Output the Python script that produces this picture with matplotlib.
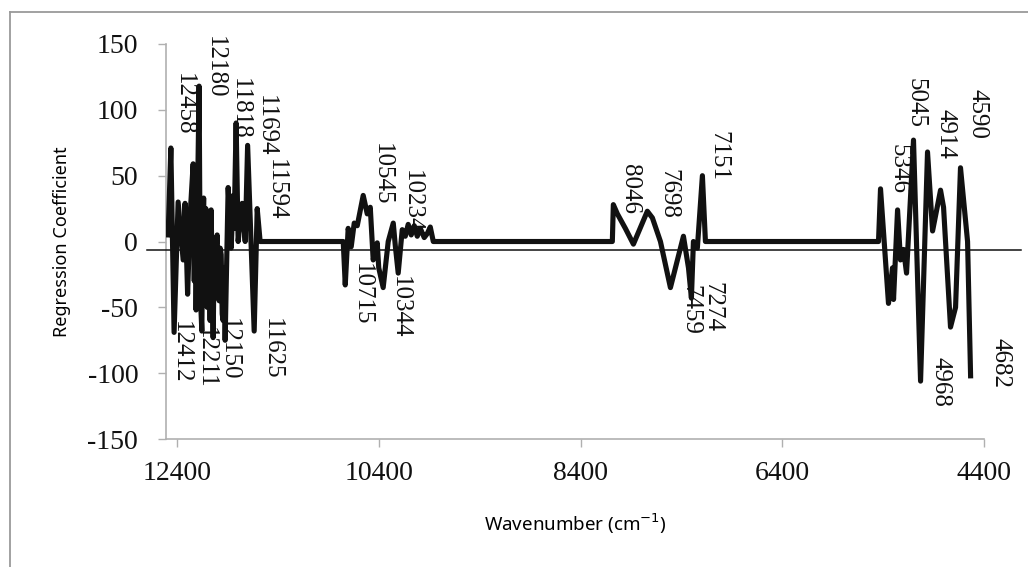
import numpy as np
import matplotlib
matplotlib.use("Agg")
import matplotlib.pyplot as plt
from matplotlib.lines import Line2D

# regression coefficients of the selected wavenumber regions (unselected = 0)
wavenumber = [
    12489, 12462, 12430, 12390, 12340, 12321, 12296, 12271, 12241, 12230,
    12222, 12212, 12200, 12182, 12170, 12155, 12145, 12137, 12125, 12115,
    12102, 12092, 12083, 12073, 12063, 12053, 12043, 12033, 12023, 12013,
    12003, 11993, 11983, 11973, 11963, 11953, 11944, 11934, 11924, 11894,
    11864, 11844, 11835, 11815, 11795, 11755, 11725, 11701, 11636, 11606,
    11577,
    10753, 10733, 10704, 10674, 10644, 10614, 10555, 10515, 10485, 10456,
    10416, 10401, 10357, 10307, 10257, 10237, 10208, 10168, 10138, 10109,
    10079, 10049, 10019, 9989, 9950, 9920, 9890, 9860,
    8085, 8075, 8035, 7956, 7876, 7738, 7688, 7608, 7509, 7380,
    7330, 7301, 7281, 7242, 7192, 7162,
    5446, 5426, 5347, 5307, 5297, 5257, 5228, 5198, 5168, 5099,
    5029, 4960, 4910, 4831, 4801, 4732, 4682, 4633, 4563, 4533,
]
coefficient = [
    5, 71, -69, 30, -14, 29, -40, 20, 59, -30,
    40, -52, 20, 118, -40, -68, 10, 33, -45, 25,
    -50, -10, 10, -60, 24, -20, -73, -15, -20, -5,
    5, -30, -45, -5, -10, -55, -60, -20, -75, 41,
    -5, 35, 10, 90, 0, 29, 0, 73, -68, 25,
    0,
    0, -33, 10, -4, 14, 12, 35, 21, 26, -14,
    -1, -20, -35, 0, 14, -3, -24, 9, 4, 13,
    5, 12, 4, 10, 3, 6, 11, 0,
    0, 28, 21, 10, -2, 23, 18, 0, -35, 4,
    -20, -43, 0, -5, 50, 0,
    0, 40, -47, -20, -44, 24, -14, -6, -24, 77,
    -106, 68, 8, 39, 26, -65, -50, 56, 0, -102,
]

# annotated wavenumbers and where their labels sit
peak_labels = ["12458", "12180", "11818", "11694", "11594",
               "12412", "12211", "12150", "11625",
               "10545", "10715", "10234", "10344",
               "8046", "7698", "7151", "7274", "7459",
               "5045", "5346", "4914", "4590", "4968", "4682"]
label_wn = [12331, 12023, 11775, 11517, 11418,
            12360, 12112, 11884, 11457,
            10366, 10565, 10069, 10188,
            7906, 7529, 7033, 7093, 7311,
            5079, 5247, 4781, 4464, 4831, 4236]
label_top = [128, 156, 124, 111, 63,
             -60, -65, -58, -58,
             75, -16, 54, -26,
             59, 55, 84, -31, -33,
             124, 74, 101, 116, -88, -73]

xticks = [12400, 10400, 8400, 6400, 4400]
yticks = [150, 100, 50, 0, -50, -100, -150]

wn = np.asarray(wavenumber, dtype=float)
coef = np.asarray(coefficient, dtype=float)

fig = plt.figure(figsize=(10.28, 5.67), dpi=100)
ax = fig.add_axes([0.1615, 0.2257, 0.7957, 0.6967])

ax.plot(wn, coef, color="#111111", lw=3.7, solid_joinstyle="round", zorder=3)
# offset reference line across the plot
ax.plot([12698, 4037], [-6.5, -6.5], color="#111111", lw=1.1,
        clip_on=False, zorder=4)

serif = "Liberation Serif"
for txt, x, y in zip(peak_labels, label_wn, label_top):
    ax.text(x, y, txt, rotation=-90, ha="center", va="top",
            fontsize=18, family=serif, color="#111111", zorder=2)

ax.set_xlim(12510, 4400)
ax.set_ylim(-150, 150)
ax.set_xticks(xticks)
ax.set_yticks(yticks)
ax.set_xticklabels([str(v) for v in xticks], family=serif, fontsize=20)
ax.set_yticklabels([str(v) for v in yticks], family=serif, fontsize=20)
ax.tick_params(axis="both", direction="out", length=6, width=1,
               color="#b0b0b0", labelcolor="#111111")
ax.tick_params(axis="x", pad=10)
ax.tick_params(axis="y", pad=14)

for side in ("top", "right"):
    ax.spines[side].set_visible(False)
for side in ("left", "bottom"):
    ax.spines[side].set_color("#b0b0b0")
    ax.spines[side].set_linewidth(1.2)

ax.set_ylabel("Regression Coefficient", family="Noto Sans", fontsize=13,
              labelpad=12)
ax.set_xlabel("Wavenumber (cm$^{-1}$)", family="Noto Sans", fontsize=13.5,
              labelpad=18)

# outer frame of the chart area
fx, fy = 10 / 1028, 1 - 12 / 567
fig.add_artist(Line2D([fx, fx], [0, fy], transform=fig.transFigure,
                      color="#9a9a9a", lw=1.3))
fig.add_artist(Line2D([fx, 1], [fy, fy], transform=fig.transFigure,
                      color="#9a9a9a", lw=1.3))

fig.savefig("out.png", dpi=100, facecolor="white")
